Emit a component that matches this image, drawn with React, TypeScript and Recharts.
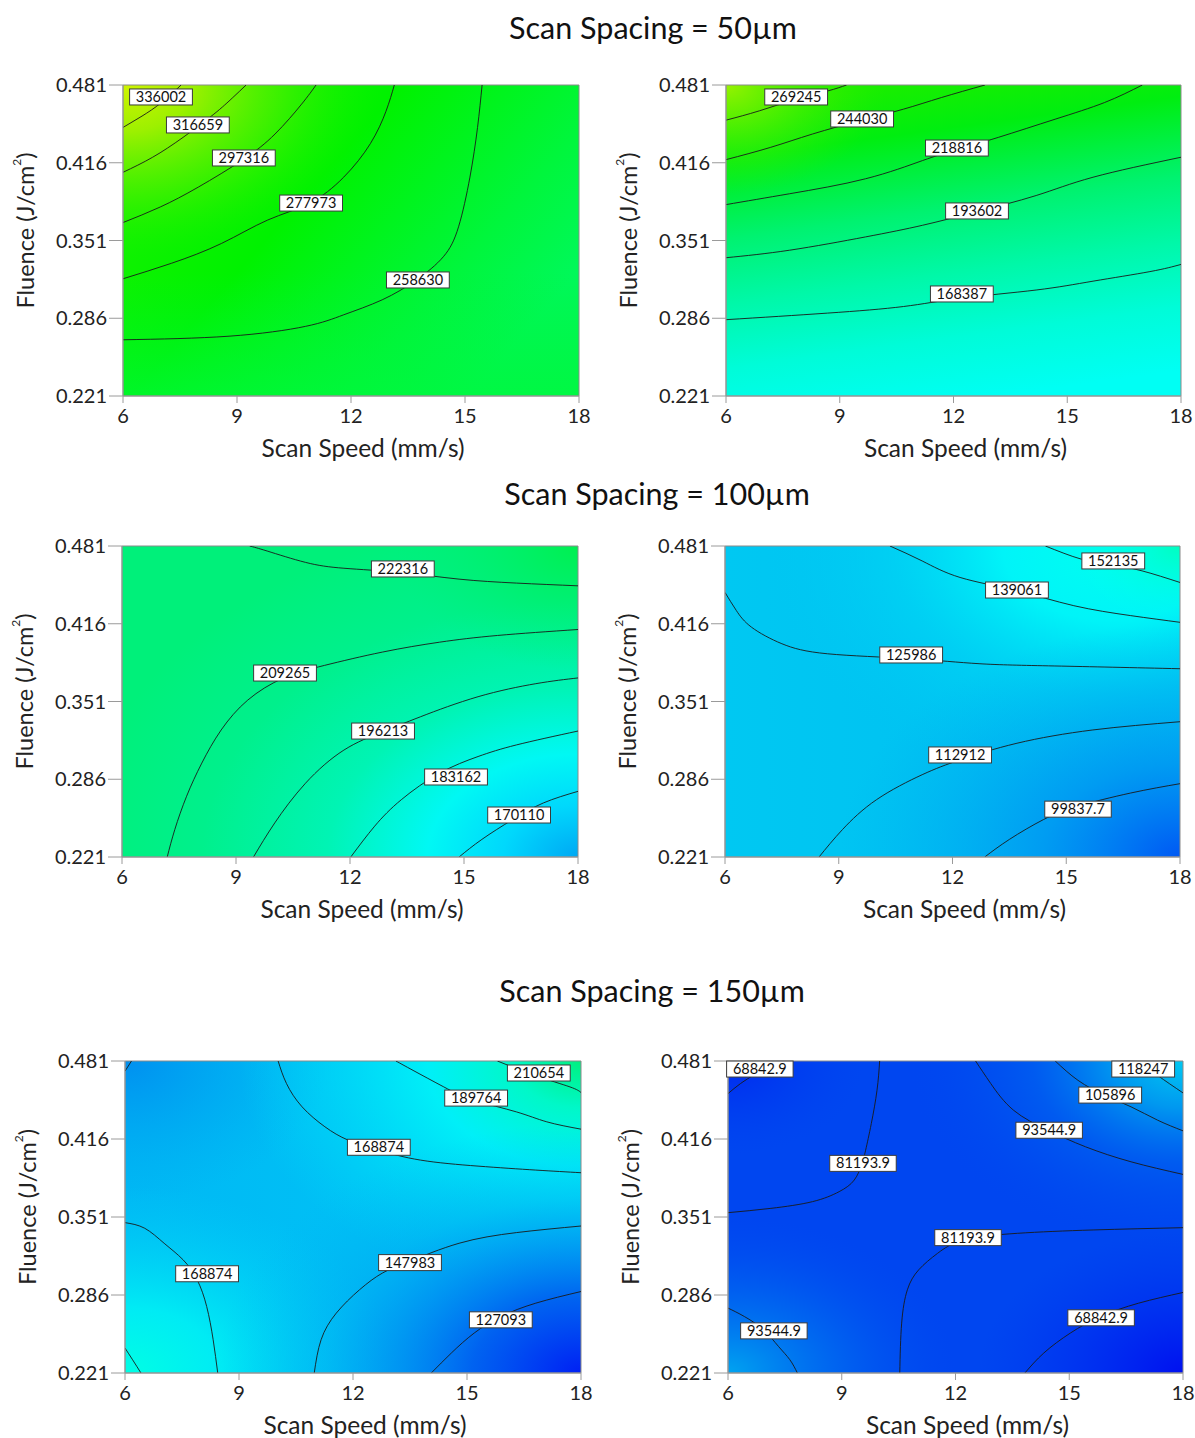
import React from 'react';
import { LineChart, Line, XAxis, YAxis, ReferenceArea, ReferenceDot } from 'recharts';

type Pt = [number, number];

const speedTicks = [6, 9, 12, 15, 18];
const fluenceTicks = [0.221, 0.286, 0.351, 0.416, 0.481];
const spacingTitles = ['Scan Spacing = 50µm', 'Scan Spacing = 100µm', 'Scan Spacing = 150µm'];

// ---- Scan spacing 50µm, left
const p1Levels = ['336002', '316659', '297316', '277973', '258630'];
const p1_336002: Pt[] = [[6, 0.4455], [6.5, 0.455], [7.0, 0.466], [7.53, 0.481]];
const p1_316659: Pt[] = [[6, 0.408], [6.78, 0.4206], [7.58, 0.4372], [8.39, 0.4566], [8.89, 0.4705], [9.24, 0.481]];
const p1_297316: Pt[] = [[6, 0.366], [6.98, 0.379], [7.98, 0.3956], [9.16, 0.4186], [10.0, 0.44], [10.7, 0.465], [11.08, 0.481]];
const p1_277973: Pt[] = [[6, 0.319], [7.28, 0.332], [8.59, 0.3485], [9.8, 0.368], [10.9, 0.382], [11.81, 0.404], [12.51, 0.432], [12.92, 0.459], [13.14, 0.481]];
const p1_258630: Pt[] = [[6, 0.268], [8.79, 0.271], [10.8, 0.2792], [11.81, 0.2889], [12.82, 0.3014], [13.72, 0.318], [14.43, 0.3374], [14.83, 0.3624], [15.13, 0.404], [15.33, 0.4455], [15.45, 0.481]];
const p1Tags: Pt[] = [[7.0, 0.471], [7.97, 0.4476], [9.18, 0.42], [10.95, 0.3823], [13.76, 0.318]];

// ---- Scan spacing 50µm, right
const p2Levels = ['269245', '244030', '218816', '193602', '168387'];
const p2_269245: Pt[] = [[6, 0.4516], [6.88, 0.4594], [7.85, 0.4691], [8.68, 0.476], [9.18, 0.481]];
const p2_244030: Pt[] = [[6, 0.4186], [7.18, 0.4289], [8.28, 0.44], [9.58, 0.4516], [10.68, 0.4608], [11.68, 0.4705], [12.83, 0.481]];
const p2_218816: Pt[] = [[6, 0.381], [7.68, 0.3901], [9.68, 0.4026], [11.18, 0.4178], [12.06, 0.4267], [13.18, 0.4372], [14.68, 0.4524], [15.98, 0.4663], [16.98, 0.481]];
const p2_193602: Pt[] = [[6, 0.3366], [7.68, 0.3429], [9.68, 0.354], [11.18, 0.3637], [12.58, 0.3748], [14.18, 0.3886], [15.68, 0.4039], [18, 0.4206]];
const p2_168387: Pt[] = [[6, 0.2848], [8.68, 0.2903], [10.68, 0.2958], [12.18, 0.3027], [14.18, 0.3096], [15.68, 0.317], [17.18, 0.325], [18, 0.331]];
const p2Tags: Pt[] = [[7.85, 0.471], [9.59, 0.4526], [12.09, 0.4283], [12.62, 0.3757], [12.22, 0.3063]];

// ---- Scan spacing 100µm, left
const p3Levels = ['222316', '209265', '196213', '183162', '170110'];
const p3_222316: Pt[] = [[9.36, 0.481], [9.82, 0.4768], [10.83, 0.4673], [11.84, 0.4624], [13.35, 0.4588], [14.87, 0.4533], [16.38, 0.45], [18, 0.4477]];
const p3_209265: Pt[] = [[7.19, 0.221], [7.39, 0.244], [7.7, 0.2718], [8.1, 0.2995], [8.61, 0.3272], [9.31, 0.3522], [10.24, 0.3705], [11.33, 0.3812], [12.85, 0.3923], [14.36, 0.4006], [15.88, 0.4062], [18, 0.4112]];
const p3_196213: Pt[] = [[9.46, 0.221], [10.02, 0.2495], [10.83, 0.2827], [11.84, 0.3104], [12.85, 0.3256], [13.86, 0.3383], [15.37, 0.355], [16.89, 0.3659], [18, 0.3707]];
const p3_183162: Pt[] = [[12.02, 0.221], [12.65, 0.2468], [13.35, 0.2689], [14.36, 0.2911], [15.37, 0.305], [16.38, 0.3147], [18, 0.3263]];
const p3_170110: Pt[] = [[14.87, 0.221], [15.47, 0.2357], [16.28, 0.2523], [17.09, 0.2662], [18, 0.2759]];
const p3Tags: Pt[] = [[13.39, 0.4618], [10.29, 0.3748], [12.87, 0.3263], [14.79, 0.2879], [16.45, 0.2561]];

// ---- Scan spacing 100µm, right
const p4Levels = ['152135', '139061', '125986', '112912', '99837.7'];
const p4_152135: Pt[] = [[14.45, 0.481], [15.4, 0.47], [16.2, 0.4652], [17.0, 0.4602], [18, 0.4505]];
const p4_139061: Pt[] = [[10.35, 0.481], [11.2, 0.4685], [12.2, 0.4547], [13.7, 0.4436], [15.2, 0.4311], [16.7, 0.4228], [18, 0.4172]];
const p4_125986: Pt[] = [[6, 0.4422], [6.3, 0.427], [6.7, 0.4131], [7.5, 0.3993], [8.7, 0.3909], [10.9, 0.3868], [12.7, 0.3826], [14.7, 0.3807], [18, 0.3784]];
const p4_112912: Pt[] = [[8.48, 0.221], [9.1, 0.244], [10.0, 0.269], [11.2, 0.2898], [12.2, 0.3022], [13.7, 0.3161], [15.7, 0.3272], [18, 0.3341]];
const p4_99837: Pt[] = [[12.85, 0.221], [13.5, 0.2357], [14.4, 0.2523], [15.3, 0.2634], [16.7, 0.2745], [18, 0.2823]];
const p4Tags: Pt[] = [[16.24, 0.4685], [13.7, 0.4442], [10.91, 0.3899], [12.2, 0.3063], [15.31, 0.261]];

// ---- Scan spacing 150µm, left
const p5Levels = ['210654', '189764', '168874', '168874', '147983', '127093'];
const p5_210654: Pt[] = [[15.8, 0.481], [16.8, 0.4688], [17.71, 0.4594], [18, 0.4547]];
const p5_189764: Pt[] = [[13.13, 0.481], [13.58, 0.4732], [14.39, 0.4594], [15.19, 0.4483], [16.3, 0.4386], [17.1, 0.4303], [18, 0.4242]];
const p5_168874a: Pt[] = [[10.03, 0.481], [10.25, 0.4622], [10.66, 0.4428], [11.26, 0.4262], [11.87, 0.4151], [12.67, 0.4067], [13.78, 0.3984], [15.29, 0.3934], [16.81, 0.3901], [18, 0.3879]];
const p5_168874b: Pt[] = [[6, 0.3463], [6.52, 0.3416], [7.03, 0.3291], [7.53, 0.3153], [7.9, 0.2986], [8.15, 0.2764], [8.32, 0.2487], [8.44, 0.221]];
const p5_147983: Pt[] = [[10.98, 0.221], [11.16, 0.2487], [11.56, 0.2709], [12.17, 0.2903], [12.77, 0.3042], [13.48, 0.3139], [14.79, 0.3291], [16.3, 0.338], [18, 0.3435]];
const p5_127093: Pt[] = [[14.06, 0.221], [14.59, 0.2377], [15.19, 0.2543], [15.9, 0.2681], [16.81, 0.2792], [18, 0.2889]];
const p5_cornerLow: Pt[] = [[6, 0.2418], [6.2, 0.232], [6.42, 0.221]];
const p5_cornerTop: Pt[] = [[6, 0.4725], [6.17, 0.481]];
const p5Tags: Pt[] = [[16.89, 0.471], [15.24, 0.4501], [12.68, 0.4091], [8.16, 0.3037], [13.5, 0.313], [15.89, 0.2653]];

// ---- Scan spacing 150µm, right
const p6Levels = ['68842.9', '81193.9', '81193.9', '93544.9', '105896', '118247', '93544.9', '68842.9'];
const p6_68842a: Pt[] = [[6, 0.4538], [6.33, 0.4622], [6.73, 0.4705], [7.2, 0.481]];
const p6_81193a: Pt[] = [[10.0, 0.481], [9.93, 0.4566], [9.78, 0.4289], [9.63, 0.4067], [9.53, 0.3951], [9.33, 0.3818], [8.93, 0.3721], [8.23, 0.3638], [7.13, 0.3582], [6, 0.3546]];
const p6_81193b: Pt[] = [[10.53, 0.221], [10.58, 0.2626], [10.73, 0.2903], [11.03, 0.307], [11.53, 0.3208], [12.23, 0.3319], [13.63, 0.3374], [15.63, 0.3402], [18, 0.3421]];
const p6_93544a: Pt[] = [[12.53, 0.481], [12.93, 0.4622], [13.53, 0.44], [14.43, 0.4234], [15.43, 0.4095], [16.63, 0.397], [18, 0.3865]];
const p6_105896: Pt[] = [[14.63, 0.481], [15.23, 0.4649], [15.93, 0.4525], [16.63, 0.4428], [17.33, 0.4317], [18, 0.4228]];
const p6_118247: Pt[] = [[16.83, 0.481], [17.33, 0.469], [18, 0.4544]];
const p6_93544b: Pt[] = [[6, 0.2751], [6.43, 0.2681], [6.93, 0.2571], [7.33, 0.2432], [7.63, 0.2321], [7.83, 0.221]];
const p6_68842b: Pt[] = [[13.83, 0.221], [14.33, 0.2377], [15.03, 0.2543], [15.83, 0.2681], [16.83, 0.2792], [18, 0.2881]];
const p6Tags: Pt[] = [[6.84, 0.4743], [9.56, 0.3957], [12.33, 0.3338], [14.47, 0.4233], [16.08, 0.4526], [16.95, 0.4743], [7.21, 0.2561], [15.84, 0.267]];

const FONT = 'Lato, "Open Sans", sans-serif';

type Stop = [number, string, number?];
type Layer =
  | { kind: 'lin'; x1: number; y1: number; x2: number; y2: number; stops: Stop[] }
  | { kind: 'rad'; cx: number; cy: number; r: number; stops: Stop[] };

// colour washes approximating the response-surface shading
const shade1: Layer[] = [
  { kind: 'lin', x1: 0, y1: 0, x2: 1, y2: 0.6, stops: [[0, '#20f200'], [0.45, '#00f200'], [0.8, '#00f63c'], [1, '#00f85a']] },
  { kind: 'lin', x1: 0, y1: 0, x2: 0, y2: 1, stops: [[0.6, '#00f430', 0], [1, '#00f83a', 0.7]] },
  { kind: 'rad', cx: 0, cy: 0, r: 0.75, stops: [[0, '#d0f400', 1], [0.2, '#a4f000', 0.95], [0.45, '#58f000', 0.65], [0.75, '#10f200', 0]] },
];
const shade2: Layer[] = [
  { kind: 'lin', x1: 0.4, y1: 0, x2: 0.6, y2: 1, stops: [[0, '#18ee00'], [0.15, '#00ee10'], [0.4, '#00f270'], [0.6, '#00f8a8'], [0.8, '#00fcd8'], [1, '#00fff4']] },
  { kind: 'rad', cx: 0, cy: 0, r: 0.35, stops: [[0, '#98f200', 1], [1, '#30ee00', 0]] },
];
const shade3: Layer[] = [
  { kind: 'rad', cx: 1, cy: 1, r: 1.1, stops: [[0, '#00a8f4'], [0.15, '#00d8fc'], [0.3, '#00f8f4'], [0.5, '#00f4b4'], [0.75, '#00f08c'], [1, '#00f07a']] },
  { kind: 'rad', cx: 1, cy: 0, r: 0.4, stops: [[0, '#00f050', 1], [1, '#00f070', 0]] },
];
const shade4: Layer[] = [
  { kind: 'lin', x1: 0, y1: 0, x2: 1, y2: 0, stops: [[0, '#00c8f2'], [1, '#00bcf2']] },
  { kind: 'rad', cx: 0.85, cy: 0, r: 0.8, stops: [[0, '#00fff0', 1], [0.3, '#00f4f8', 1], [0.6, '#00d8f4', 0.6], [1, '#00c4f2', 0]] },
  { kind: 'rad', cx: 1, cy: 0, r: 0.25, stops: [[0, '#00ffc0', 1], [1, '#00fff0', 0]] },
  { kind: 'rad', cx: 1, cy: 1, r: 0.75, stops: [[0, '#0058f4', 1], [0.4, '#0090f2', 0.75], [1, '#00b0f0', 0]] },
];
const shade5: Layer[] = [
  { kind: 'lin', x1: 0, y1: 0, x2: 1, y2: 0, stops: [[0, '#00b8f4'], [1, '#00c8f6']] },
  { kind: 'rad', cx: 0, cy: 0, r: 0.45, stops: [[0, '#0090f0', 1], [1, '#00a8f0', 0]] },
  { kind: 'rad', cx: 1, cy: 0, r: 0.75, stops: [[0, '#00f080', 1], [0.2, '#00f8c8', 1], [0.45, '#00f4f8', 0.9], [1, '#00dcf8', 0]] },
  { kind: 'rad', cx: 0, cy: 1, r: 0.6, stops: [[0, '#00ffe4', 1], [0.35, '#00f4f4', 0.85], [1, '#00d0f8', 0]] },
  { kind: 'rad', cx: 1, cy: 1, r: 0.8, stops: [[0, '#0020f4', 1], [0.3, '#0058f0', 0.9], [0.7, '#0098f0', 0.3], [1, '#00b0f0', 0]] },
];
const shade6: Layer[] = [
  { kind: 'lin', x1: 0, y1: 0, x2: 1, y2: 0, stops: [[0, '#0046f0'], [1, '#0046f0']] },
  { kind: 'rad', cx: 1, cy: 0, r: 0.6, stops: [[0, '#00c8f2', 1], [0.25, '#0098f0', 1], [0.55, '#0068f0', 0.6], [1, '#0048f0', 0]] },
  { kind: 'rad', cx: 0, cy: 1, r: 0.5, stops: [[0, '#00a4f0', 1], [0.5, '#0074f0', 0.6], [1, '#0050f0', 0]] },
  { kind: 'rad', cx: 1, cy: 1, r: 0.45, stops: [[0, '#0010f0', 1], [1, '#0030f0', 0]] },
  { kind: 'rad', cx: 0, cy: 0, r: 0.3, stops: [[0, '#0028f0', 1], [1, '#0040f0', 0]] },
];

const panels = [
  { id: 'p1', left: 123, top: 85, w: 456, h: 311, lines: [p1_336002, p1_316659, p1_297316, p1_277973, p1_258630], extra: [] as Pt[][], levels: p1Levels, tags: p1Tags, shade: shade1 },
  { id: 'p2', left: 726, top: 85, w: 455, h: 311, lines: [p2_269245, p2_244030, p2_218816, p2_193602, p2_168387], extra: [], levels: p2Levels, tags: p2Tags, shade: shade2 },
  { id: 'p3', left: 122, top: 546, w: 456, h: 311, lines: [p3_222316, p3_209265, p3_196213, p3_183162, p3_170110], extra: [], levels: p3Levels, tags: p3Tags, shade: shade3 },
  { id: 'p4', left: 725, top: 546, w: 455, h: 311, lines: [p4_152135, p4_139061, p4_125986, p4_112912, p4_99837], extra: [], levels: p4Levels, tags: p4Tags, shade: shade4 },
  { id: 'p5', left: 125, top: 1061, w: 456, h: 312, lines: [p5_210654, p5_189764, p5_168874a, p5_168874b, p5_147983, p5_127093], extra: [p5_cornerLow, p5_cornerTop], levels: p5Levels, tags: p5Tags, shade: shade5 },
  { id: 'p6', left: 728, top: 1061, w: 455, h: 312, lines: [p6_68842a, p6_81193a, p6_81193b, p6_93544a, p6_105896, p6_118247, p6_93544b, p6_68842b], extra: [], levels: p6Levels, tags: p6Tags, shade: shade6 },
];

const titleSpots = [
  { x: 653, y: 27 },
  { x: 657, y: 493 },
  { x: 652, y: 990 },
];

const AXIS_W = 123;
const AXIS_H = 70;
const TOP_M = 25;
const RIGHT_M = 12;

const toRows = (pts: Pt[]) => pts.map(([x, y]) => ({ x, y }));

const tagWidth = (s: string) => {
  let w = 0;
  for (const ch of s) w += ch === '.' ? 3.7 : 8.3;
  return w + 13;
};

const LevelTag = ({ cx, cy, text }: { cx: number; cy: number; text: string }) => {
  const w = tagWidth(text);
  const h = 16;
  return (
    <g>
      <rect x={cx - w / 2} y={cy - h / 2} width={w} height={h} fill="#fff" stroke="#3a3a3a" strokeWidth={1} />
      <text x={cx} y={cy + 5} textAnchor="middle" fontSize={14.5} fill="#111" fontFamily={FONT}>
        {text}
      </text>
    </g>
  );
};

const SpeedTitle = (props: any) => {
  const vb = props.viewBox || {};
  const cx = vb.x + vb.width / 2 + 12;
  const cy = vb.y + 51;
  return (
    <text x={cx} y={cy} textAnchor="middle" dominantBaseline="central" fontSize={24.5} fill="#222" fontFamily={FONT}>
      Scan Speed (mm/s)
    </text>
  );
};

const FluenceTitle = (props: any) => {
  const vb = props.viewBox || {};
  const cx = vb.x + 25;
  const cy = vb.y + vb.height / 2 - 10;
  return (
    <text x={cx} y={cy} transform={`rotate(-90 ${cx} ${cy})`} textAnchor="middle" dominantBaseline="central" fontSize={23.5} fill="#222" fontFamily={FONT}>
      Fluence (J/cm<tspan fontSize={12} dy={-9}>2</tspan>
      <tspan dy={9}>)</tspan>
    </text>
  );
};

const renderStops = (stops: Stop[]) =>
  stops.map(([o, c, a], i) => <stop key={i} offset={o} stopColor={c} stopOpacity={a === undefined ? 1 : a} />);

function ContourPanel({ p }: { p: (typeof panels)[number] }) {
  const width = p.w + AXIS_W + RIGHT_M;
  const height = p.h + TOP_M + AXIS_H;
  return (
    <div style={{ position: 'absolute', left: p.left - AXIS_W, top: p.top - TOP_M }}>
      <LineChart width={width} height={height} margin={{ top: TOP_M, right: RIGHT_M, bottom: 0, left: 0 }}>
        <defs>
          {p.shade.map((l, i) =>
            l.kind === 'lin' ? (
              <linearGradient key={i} id={`${p.id}-g${i}`} x1={l.x1} y1={l.y1} x2={l.x2} y2={l.y2}>
                {renderStops(l.stops)}
              </linearGradient>
            ) : (
              <radialGradient key={i} id={`${p.id}-g${i}`} cx={l.cx} cy={l.cy} r={l.r} fx={l.cx} fy={l.cy}>
                {renderStops(l.stops)}
              </radialGradient>
            )
          )}
        </defs>
        <XAxis
          type="number"
          dataKey="x"
          domain={[6, 18]}
          ticks={speedTicks}
          interval={0}
          allowDataOverflow
          height={AXIS_H}
          tickSize={7}
          tickMargin={6}
          stroke="#9a9a9a"
          tick={{ fontSize: 20, fill: '#222', fontFamily: FONT }}
          label={<SpeedTitle />}
        />
        <YAxis
          type="number"
          domain={[0.221, 0.481]}
          ticks={fluenceTicks}
          interval={0}
          allowDataOverflow
          width={AXIS_W}
          tickSize={14}
          tickMargin={2}
          stroke="#9a9a9a"
          tick={{ fontSize: 20, fill: '#222', fontFamily: FONT }}
          tickFormatter={(v: number) => v.toFixed(3)}
          label={<FluenceTitle />}
        />
        {p.shade.map((_, i) => (
          <ReferenceArea key={`a${i}`} x1={6} x2={18} y1={0.221} y2={0.481} fill={`url(#${p.id}-g${i})`} fillOpacity={1} stroke="none" ifOverflow="visible" />
        ))}
        {[...p.lines, ...p.extra].map((pts, i) => (
          <Line
            key={`l${i}`}
            data={toRows(pts)}
            dataKey="y"
            type="natural"
            stroke="#1a1a1a"
            strokeWidth={0.9}
            dot={false}
            activeDot={false}
            isAnimationActive={false}
          />
        ))}
        <ReferenceArea x1={6} x2={18} y1={0.221} y2={0.481} fill="none" stroke="#8a8a8a" strokeWidth={1} ifOverflow="visible" />
        {p.tags.map(([x, y], i) => (
          <ReferenceDot
            key={`t${i}`}
            x={x}
            y={y}
            r={0}
            ifOverflow="visible"
            shape={(s: any) => <LevelTag cx={s.cx} cy={s.cy} text={p.levels[i]} />}
          />
        ))}
      </LineChart>
    </div>
  );
}

export default function App() {
  return (
    <div style={{ position: 'absolute', left: 0, top: 0, width: 1195, height: 1438, background: '#fff', fontFamily: FONT, overflow: 'hidden' }}>
      {spacingTitles.map((t, i) => (
        <div
          key={t}
          style={{
            position: 'absolute',
            left: titleSpots[i].x - 300,
            top: titleSpots[i].y - 19,
            width: 600,
            height: 38,
            lineHeight: '38px',
            textAlign: 'center',
            fontSize: 30.5,
            color: '#111',
          }}
        >
          {t}
        </div>
      ))}
      {panels.map((p) => (
        <ContourPanel key={p.id} p={p} />
      ))}
    </div>
  );
}
